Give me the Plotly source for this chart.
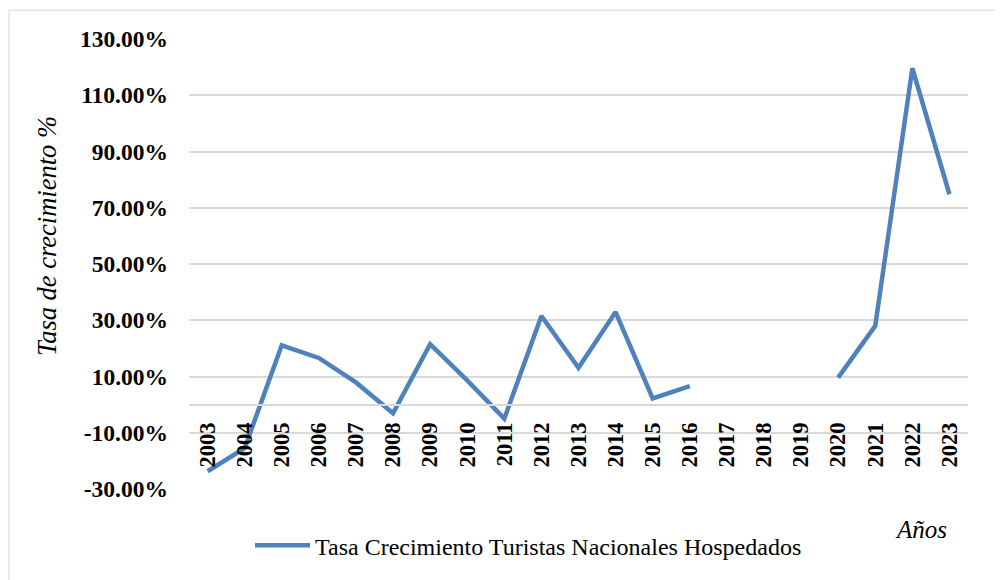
import plotly.graph_objects as go

years = [str(y) for y in range(2003, 2024)]
growth = [-0.237, -0.155, 0.211, 0.166, 0.079, -0.031, 0.215, 0.086, -0.050,
          0.315, 0.131, 0.329, 0.022, 0.066, None, None, None,
          0.096, 0.280, 1.196, 0.748]
series_name = "Tasa Crecimiento Turistas Nacionales Hospedados"
y_tickvals = [-0.3, -0.1, 0.1, 0.3, 0.5, 0.7, 0.9, 1.1, 1.3]
y_ticktext = ["-30.00%", "-10.00%", "10.00%", "30.00%", "50.00%",
              "70.00%", "90.00%", "110.00%", "130.00%"]
y_title = "Tasa de crecimiento %"
x_title = "Años"

FONT = "Liberation Serif, Times New Roman, serif"
BLUE = "#4F81BD"
GRID = "#D9D9D9"

OFF = 8  # page body margin
W, H = 1003 - OFF, 580 - OFF
L, R, T, B = 181, 35, 31, 89
pw, ph = W - L - R, H - T - B

def px(x):
    return (x - OFF - L) / pw

def py(y):
    return (OFF + H - B - y) / ph

y_range = [-0.3, 1.3]
zero_pos = (0 - y_range[0]) / (y_range[1] - y_range[0])

fig = go.Figure()
fig.add_trace(go.Scatter(
    x=years, y=growth, mode="lines", name=series_name,
    line=dict(color=BLUE, width=4.5), connectgaps=False,
    showlegend=True,
))

fig.update_layout(
    width=W, height=H, autosize=False,
    margin=dict(l=L, r=R, t=T, b=B),
    paper_bgcolor="white", plot_bgcolor="white",
    font=dict(family=FONT, color="black"),
    showlegend=True,
    legend=dict(
        orientation="h", x=px(250), y=py(548), xanchor="left", yanchor="middle",
        font=dict(family=FONT, size=24, color="black"),
        bgcolor="rgba(0,0,0,0)", itemwidth=55,
    ),
    xaxis=dict(
        type="category", range=[-0.5, len(years) - 0.5],
        anchor="free", position=zero_pos,
        showline=True, linecolor=GRID, linewidth=1.5,
        showgrid=False, zeroline=False,
        ticks="", tickangle=-90,
        ticklabelstandoff=8,
        tickfont=dict(family=FONT, size=22.5, color="black", weight="bold"),
    ),
    yaxis=dict(
        range=y_range, tickvals=y_tickvals, ticktext=y_ticktext,
        showgrid=True, gridcolor=GRID, gridwidth=1.5,
        zeroline=False, showline=False, ticks="",
        ticklabelstandoff=20,
        tickfont=dict(family=FONT, size=23.5, color="black", weight="bold"),
    ),
    annotations=[
        dict(text=y_title, xref="paper", yref="paper", x=px(47), y=py(237),
             textangle=-90, showarrow=False, xanchor="center", yanchor="middle",
             font=dict(family=FONT, size=26.5, color="black", style="italic")),
        dict(text=x_title, xref="paper", yref="paper", x=px(921), y=py(532),
             showarrow=False, xanchor="center", yanchor="middle",
             font=dict(family=FONT, size=25, color="black", style="italic")),
    ],
    shapes=[
        dict(type="rect", xref="paper", yref="paper",
             x0=px(9), x1=px(1010), y0=py(590), y1=py(10),
             line=dict(color=GRID, width=1), fillcolor="rgba(0,0,0,0)",
             layer="below"),
    ],
)

fig.write_html("out.html")
